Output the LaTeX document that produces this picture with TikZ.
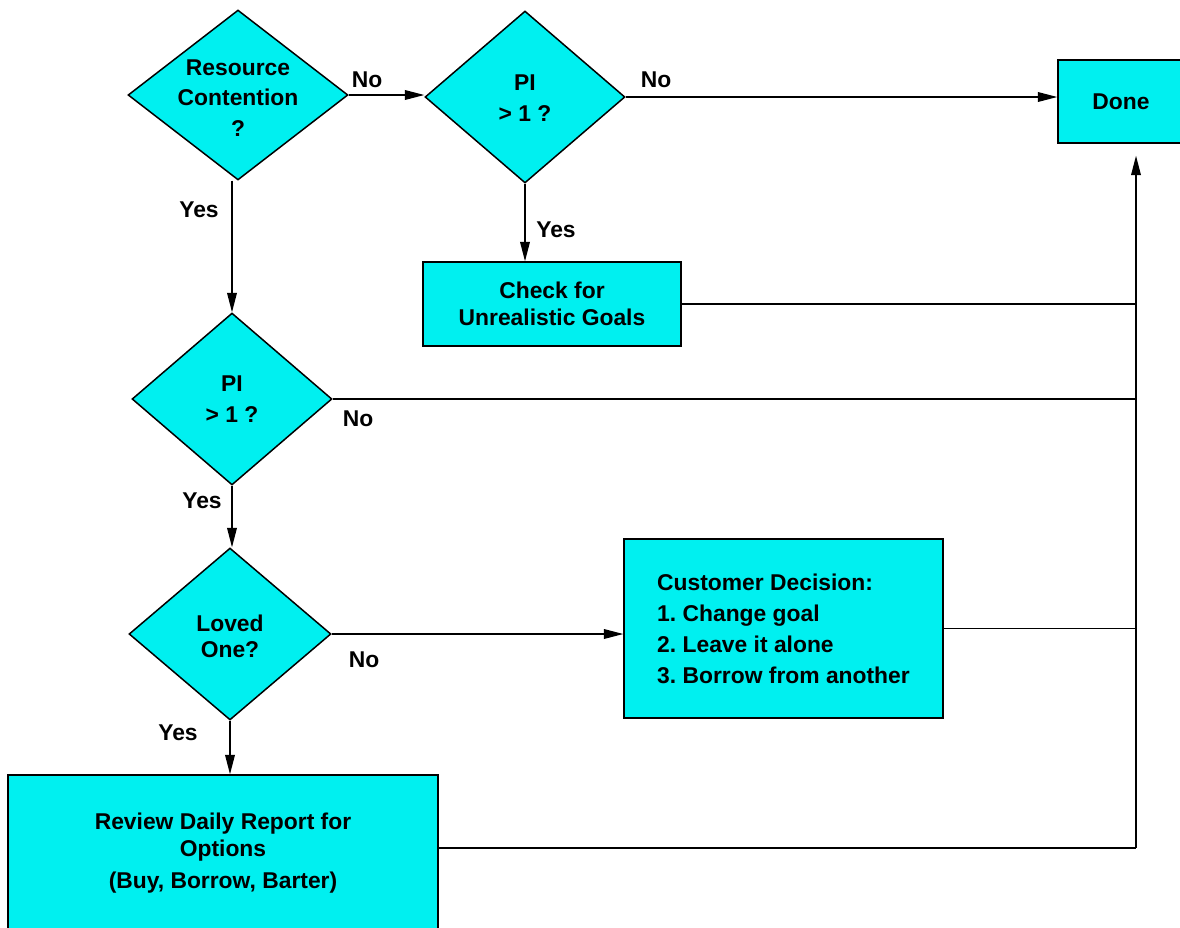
\documentclass[tikz,border=0pt]{standalone}
\usepackage{fontspec}
\setmainfont{Liberation Sans}
\usetikzlibrary{shapes.geometric,arrows.meta}
\definecolor{boxcyan}{RGB}{0,240,240}
\begin{document}
\frenchspacing
\begin{tikzpicture}[x=0.02cm,y=-0.02cm,
    font=\fontsize{13}{17.3}\selectfont\bfseries,
    decision/.style={diamond,draw,line width=0.85pt,fill=boxcyan,inner sep=0pt},
    block/.style={rectangle,draw,line width=0.85pt,fill=boxcyan,inner sep=0pt,align=center},
    inside/.style={inner sep=0pt,align=center},
    lbl/.style={inner sep=0pt},
    conn/.style={line width=0.7pt},
    arr/.style={conn,-{Triangle[length=11pt,width=5.5pt]}},
    ]
    \useasboundingbox (0,0) rectangle (1180,927);
    % decisions
    \node[decision,minimum width=4.4cm,minimum height=3.4cm] (rc) at (238,95) {};
    \node[inside] (rctext) at ([yshift=-0.06cm]rc.center) {Resource\\Contention\\?};
    \node[decision,minimum width=4cm,minimum height=3.44cm] (pia) at (525,97) {};
    \node[inside] (piatext) at ([yshift=-0.02cm]pia.center) {PI\\> 1 ?};
    \node[decision,minimum width=4cm,minimum height=3.44cm] (pib) at (232,399) {};
    \node[inside] (pibtext) at (pib.center) {PI\\> 1 ?};
    \node[decision,minimum width=4.04cm,minimum height=3.44cm] (lo) at (230,634) {};
    \node[inside,font=\fontsize{13}{14.7}\selectfont\bfseries] (lotext) at ([yshift=-0.04cm]lo.center) {Loved\\One?};
    % boxes
    \node[block,minimum width=2.52cm,minimum height=1.66cm] (done) at (1121,101.5) {Done};
    \node[block,minimum width=5.16cm,minimum height=1.68cm,font=\fontsize{13}{15.3}\selectfont\bfseries] (chk) at (552,304) {Check for\\Unrealistic Goals};
    \node[block,minimum width=6.38cm,minimum height=3.58cm,align=left,font=\fontsize{13}{17.6}\selectfont\bfseries] (cust) at (783.5,628.5) {Customer Decision:\\1. Change goal\\2. Leave it alone\\3. Borrow from another};
    \node[block,minimum width=8.6cm,minimum height=3.12cm,font=\fontsize{13}{15.3}\selectfont\bfseries] (rev) at (223,853) {Review Daily Report for\\Options\\[2.8pt](Buy, Borrow, Barter)};
    % labels
    \node[lbl] (noa) at (367,80) {No};
    \node[lbl] (nob) at (656,80) {No};
    \node[lbl] (yesa) at (199,210) {Yes};
    \node[lbl] (yesb) at (556,230) {Yes};
    \node[lbl] (noc) at (358,419) {No};
    \node[lbl] (yesc) at (202,501) {Yes};
    \node[lbl] (nod) at (364,660) {No};
    \node[lbl] (yesd) at (178,733) {Yes};
    % connectors
    \draw[arr] (rc.east) -- (rc.east -| pia.west);
    \draw[arr] (pia.east) -- (pia.east -| done.west);
    \draw[arr] (pia.south) -- (pia.south |- chk.north);
    \draw[arr] (pib.north |- rc.south) -- (pib.north);
    \draw[arr] (pib.south) -- (lo.north -| pib.south);
    \draw[arr] (lo.east) -- (lo.east -| cust.west);
    \draw[arr] (lo.south) -- (lo.south |- rev.north);
    % return line
    \coordinate (trunk) at (1136,848);
    \draw[conn] (rev.east |- trunk) -- (trunk);
    \draw[conn] (cust.east) -- (cust.east -| trunk);
    \draw[conn] (pib.east) -- (pib.east -| trunk);
    \draw[conn] (chk.east) -- (chk.east -| trunk);
    \draw[arr,shorten >=2.4mm] (trunk) -- (trunk |- done.south);
\end{tikzpicture}
\end{document}
